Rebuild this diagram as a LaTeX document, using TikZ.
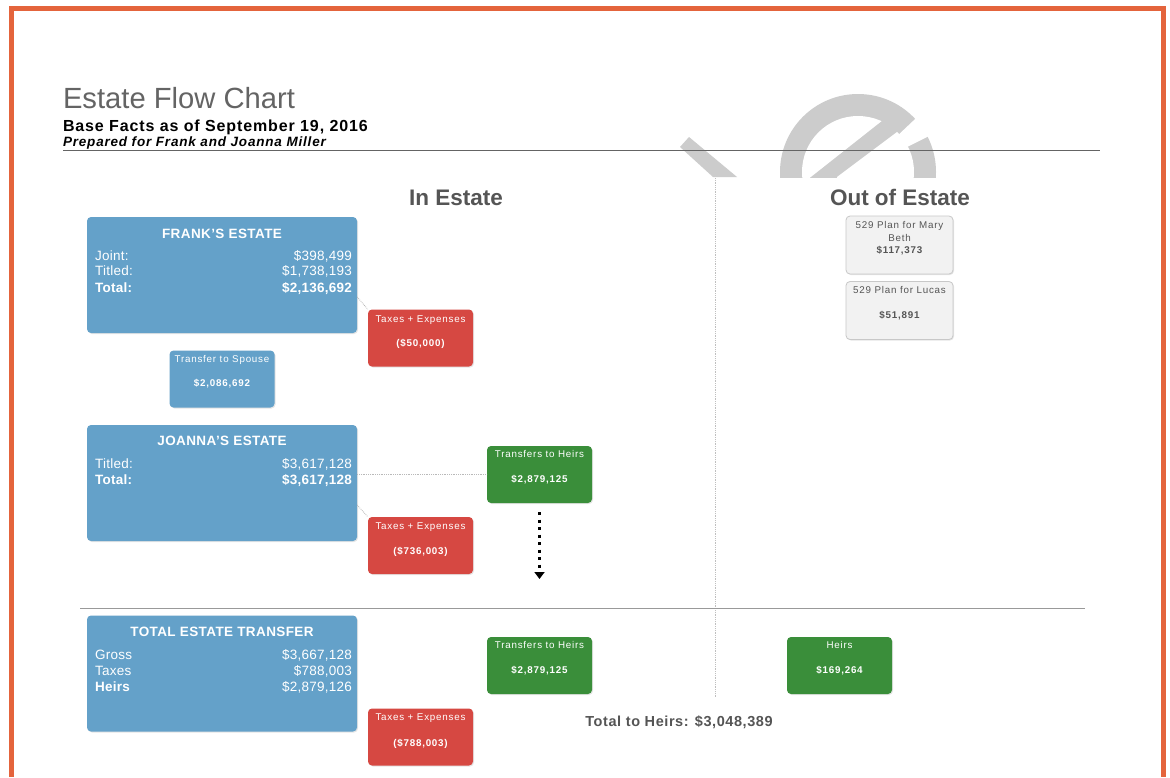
\documentclass[tikz,border=0pt]{standalone}
\usepackage{fontspec}
\setmainfont{Liberation Sans}
\usetikzlibrary{arrows.meta,shadows}
\definecolor{frameorange}{RGB}{228,100,60}
\definecolor{boxblue}{RGB}{100,161,201}
\definecolor{boxred}{RGB}{214,72,66}
\definecolor{boxgreen}{RGB}{58,142,58}
\definecolor{boxgray}{RGB}{242,242,242}
\definecolor{boxgrayline}{RGB}{200,200,200}
\definecolor{headgray}{RGB}{85,85,85}
\definecolor{titlegray}{RGB}{100,100,100}
\definecolor{wmgray}{RGB}{204,204,204}
\newcommand{\sm}{\fontsize{9.8}{11}\selectfont\addfontfeatures{LetterSpace=8}}
\newcommand{\rw}{\fontsize{13.5}{15}\selectfont\addfontfeatures{LetterSpace=2}}
\tikzset{
  shadowed/.style={drop shadow={opacity=0.2,shadow xshift=1pt,shadow yshift=-1pt}},
  bigbox/.style={shadowed,fill=boxblue,rounded corners=4pt,minimum width=270pt,minimum height=116pt,inner sep=0pt},
  smallbox/.style={shadowed,rounded corners=4pt,minimum width=105pt,minimum height=57pt,inner sep=0pt},
  bluebox/.style={smallbox,fill=boxblue},
  redbox/.style={smallbox,fill=boxred},
  greenbox/.style={smallbox,fill=boxgreen},
  graybox/.style={smallbox,fill=boxgray,draw=boxgrayline,line width=0.8pt,minimum width=107pt,minimum height=58pt},
  txt/.style={inner sep=0pt,outer sep=0pt},
  boxtitle/.style={txt,anchor=base,text=white,font=\fontsize{13.5}{15}\selectfont\bfseries\addfontfeatures{LetterSpace=3}},
  rowl/.style={txt,anchor=base west,text=white,font=\rw},
  rowr/.style={txt,anchor=base east,text=white,font=\rw},
  rowlb/.style={txt,anchor=base west,text=white,font=\rw\bfseries},
  rowrb/.style={txt,anchor=base east,text=white,font=\rw\bfseries},
  small/.style={txt,anchor=base,text=white,font=\sm},
  smallb/.style={txt,anchor=base,text=white,font=\sm\bfseries},
  head/.style={txt,anchor=base,text=headgray,font=\fontsize{22.5}{26}\selectfont\bfseries},
  conn/.style={draw=gray!55,line width=0.8pt,densely dotted},
  bigarrow/.style={draw=black,line width=3pt,dash pattern=on 3pt off 4.5pt,-{Triangle[width=10pt,length=7pt]}},
}
\begin{document}
\begin{tikzpicture}[x=1pt,y=-1pt]
\useasboundingbox (0,0) rectangle (1170,777);
\fill[white] (0,0) rectangle (1170,777);
% frame
\draw[frameorange,line width=5pt] (11.5,777) -- (11.5,8.5) -- (1163.5,8.5) -- (1163.5,777);
% watermark
\begin{scope}
  \clip (600,80) rectangle (1000,177);
  \fill[wmgray] (680,147) -- (689,137) -- (737,177) -- (713,177) -- cycle;
  \fill[wmgray] (858,172) circle (78pt);
  \begin{scope}
    \clip (858,172) circle (56pt);
    \fill[white] (800,200) -- (800,100) -- (940,100) -- (883,120) -- (807,180) -- cycle;
    \fill[white] (837,177) -- (913,120) -- (1000,120) -- (1000,200) -- (837,200) -- cycle;
  \end{scope}
  \fill[white] (903,149) -- (895,138) -- (931,104) -- (947,127) -- cycle;
\end{scope}
% header
\node[txt,anchor=base west,text=titlegray,font=\fontsize{29.2}{32}\selectfont] (title) at (63,108) {Estate Flow Chart};
\node[txt,anchor=base west,font=\fontsize{16}{18}\selectfont\bfseries\addfontfeatures{LetterSpace=5.5}] (basefacts) at (63,131) {Base Facts as of September 19, 2016};
\node[txt,anchor=base west,font=\fontsize{13.5}{15}\selectfont\bfseries\itshape\addfontfeatures{LetterSpace=6}] (prepared) at (63,146) {Prepared for Frank and Joanna Miller};
\draw[titlegray,line width=1pt] (63,150.5) -- (1100,150.5);
% headings and dividers
\node[head] (inest) at (456,205) {In Estate};
\node[head] (outest) at (900,205) {Out of Estate};
\draw[gray!50,line width=0.8pt,densely dotted] (715,178) -- (715,697);
\draw[gray!80,line width=1pt] (80,608.5) -- (1085,608.5);
% Frank
\node[bigbox] (frank) at (222,275) {};
\node[boxtitle] (frankt) at (222,238) {FRANK'S ESTATE};
\node[rowl] (fjl) at (95,260) {Joint:};
\node[rowr] (fjv) at (352,260) {\$398,499};
\node[rowl] (ftl) at (95,275) {Titled:};
\node[rowr] (ftv) at (352,275) {\$1,738,193};
\node[rowlb] (fol) at (95,292) {Total:};
\node[rowrb] (fov) at (352,292) {\$2,136,692};
\node[redbox] (tax1) at (420.5,338) {};
\node[small] (tax1a) at (420.5,322) {Taxes + Expenses};
\node[smallb] (tax1b) at (420.5,346) {(\$50,000)};
\draw[conn] ([yshift=-22pt]frank.east) -- (tax1.north west);
\node[bluebox] (spouse) at (222,379) {};
\node[small] (spousea) at (222,362) {Transfer to Spouse};
\node[smallb] (spouseb) at (222,386) {\$2,086,692};
% Joanna
\node[bigbox] (joanna) at (222,483) {};
\node[boxtitle] (joannat) at (222,445) {JOANNA'S ESTATE};
\node[rowl] (jtl) at (95,468) {Titled:};
\node[rowr] (jtv) at (352,468) {\$3,617,128};
\node[rowlb] (jol) at (95,484) {Total:};
\node[rowrb] (jov) at (352,484) {\$3,617,128};
\node[greenbox] (heirs1) at (539.5,474.5) {};
\node[small] (heirs1a) at (539.5,457) {Transfers to Heirs};
\node[smallb] (heirs1b) at (539.5,482) {\$2,879,125};
\draw[conn] (joanna.east |- heirs1.west) -- (heirs1.west);
\node[redbox] (tax2) at (420.5,545.5) {};
\node[small] (tax2a) at (420.5,529) {Taxes + Expenses};
\node[smallb] (tax2b) at (420.5,554) {(\$736,003)};
\draw[conn] ([yshift=-22pt]joanna.east) -- (tax2.north west);
\coordinate (arrowstart) at (539.5,512);
\coordinate (arrowend) at (539.5,579);
\draw[bigarrow] (arrowstart) -- (arrowend);
% Total
\node[bigbox] (total) at (222,673.5) {};
\node[boxtitle] (totalt) at (222,636) {TOTAL ESTATE TRANSFER};
\node[rowl] (tgl) at (95,659) {Gross};
\node[rowr] (tgv) at (352,659) {\$3,667,128};
\node[rowl] (ttl) at (95,675) {Taxes};
\node[rowr] (ttv) at (352,675) {\$788,003};
\node[rowlb] (thl) at (95,691) {Heirs};
\node[rowr] (thv) at (352,691) {\$2,879,126};
\node[redbox] (tax3) at (420.5,737) {};
\node[small] (tax3a) at (420.5,720) {Taxes + Expenses};
\node[smallb] (tax3b) at (420.5,746) {(\$788,003)};
\node[greenbox] (heirs2) at (539.5,665.5) {};
\node[small] (heirs2a) at (539.5,648) {Transfers to Heirs};
\node[smallb] (heirs2b) at (539.5,673) {\$2,879,125};
\node[greenbox] (heirs3) at (839.5,665.5) {};
\node[small] (heirs3a) at (839.5,648) {Heirs};
\node[smallb] (heirs3b) at (839.5,673) {\$169,264};
\node[txt,anchor=base,text=headgray,font=\fontsize{14.5}{16}\selectfont\bfseries\addfontfeatures{LetterSpace=4}] (totalheirs) at (679,726) {Total to Heirs: \$3,048,389};
% Out of estate
\node[graybox] (plan1) at (899.5,245) {};
\node[small,text=headgray] (plan1a) at (899.5,228) {529 Plan for Mary};
\node[small,text=headgray] (plan1b) at (899.5,241) {Beth};
\node[smallb,text=headgray] (plan1c) at (899.5,253) {\$117,373};
\node[graybox] (plan2) at (899.5,310.5) {};
\node[small,text=headgray] (plan2a) at (899.5,293) {529 Plan for Lucas};
\node[smallb,text=headgray] (plan2b) at (899.5,318) {\$51,891};
\end{tikzpicture}
\end{document}
